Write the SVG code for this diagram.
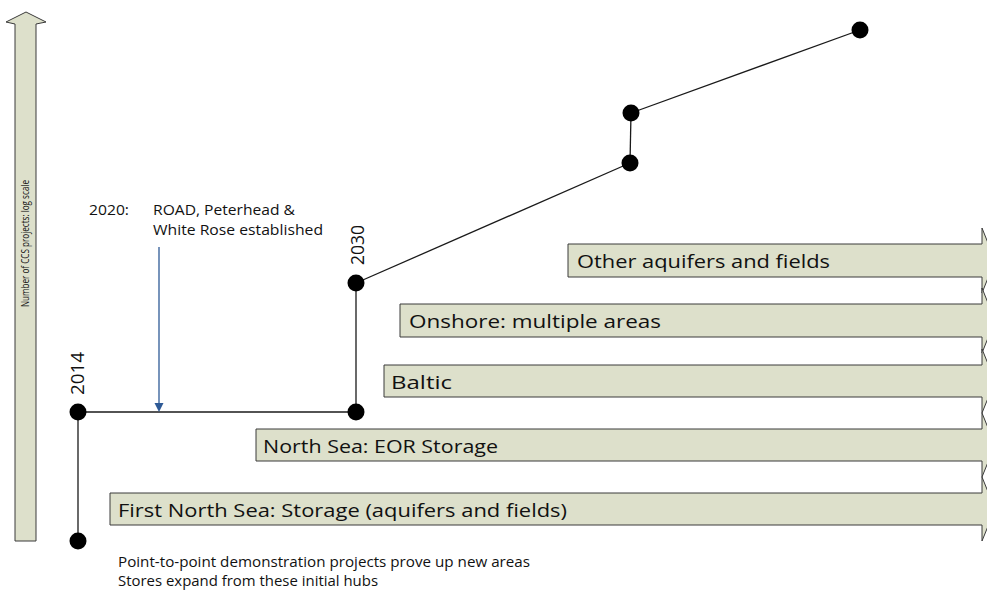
<svg xmlns="http://www.w3.org/2000/svg" width="987" height="590" viewBox="0 0 987 590">
<style>
.bar{fill:#DDE0CB;stroke:#3A3A3A;stroke-width:1}
.t{font-family:'Open Sans','Noto Sans','Liberation Sans',sans-serif;fill:#111}
.bt{font-size:19px}
.st{font-size:14px}
.yr{font-size:18px}
.ln{stroke:#1a1a1a;stroke-width:1.3;fill:none}
.dot{fill:#000}
</style>
<rect width="987" height="590" fill="#fff"/>

<g id="axis">
<polygon class="bar" points="15,541 15,24 6,22 26,12 46,22 36,24 36,541"/>
<text class="t" font-size="10" transform="translate(28.5,243.5) rotate(-90)" text-anchor="middle" textLength="127" lengthAdjust="spacingAndGlyphs">Number of CCS projects: log scale</text>
</g>

<g id="bar-other">
<polygon class="bar" points="568,244 982,244 982,228 995,260.5 982,293 982,277 568,277"/>
<text class="t bt" x="577" y="268" textLength="253" lengthAdjust="spacingAndGlyphs">Other aquifers and fields</text>
</g>
<g id="bar-onshore">
<polygon class="bar" points="400,304 982,304 982,288 995,320.5 982,353 982,337 400,337"/>
<text class="t bt" x="409" y="328" textLength="252" lengthAdjust="spacingAndGlyphs">Onshore: multiple areas</text>
</g>
<g id="bar-baltic">
<polygon class="bar" points="384,365 982,365 982,349 995,381 982,413 982,397 384,397"/>
<text class="t bt" x="391" y="389" textLength="61" lengthAdjust="spacingAndGlyphs">Baltic</text>
</g>
<g id="bar-eor">
<polygon class="bar" points="256,429 982,429 982,413 995,445 982,477 982,461 256,461"/>
<text class="t bt" x="263" y="453" textLength="235" lengthAdjust="spacingAndGlyphs">North Sea: EOR Storage</text>
</g>
<g id="bar-first">
<polygon class="bar" points="110,493 982,493 982,477 995,509 982,541 982,525 110,525"/>
<text class="t bt" x="118" y="516.5" textLength="449" lengthAdjust="spacingAndGlyphs">First North Sea: Storage (aquifers and fields)</text>
</g>

<g id="connectors">
<line class="ln" x1="78" y1="541" x2="78" y2="412"/>
<line class="ln" x1="78" y1="412" x2="356" y2="412"/>
<line class="ln" x1="356" y1="412" x2="356" y2="283"/>
<line class="ln" x1="356" y1="283" x2="630" y2="163"/>
<line class="ln" x1="630" y1="163" x2="631" y2="113"/>
<line class="ln" x1="631" y1="113" x2="860" y2="30"/>
<line x1="159" y1="247" x2="159" y2="404" stroke="#2E5A96" stroke-width="1.3"/>
<polygon points="154.5,403 163.5,403 159,412" fill="#2E5A96"/>
</g>

<g id="m-start"><circle class="dot" cx="78" cy="541" r="8.5"/></g>
<g id="m-2014"><circle class="dot" cx="78" cy="412" r="8.5"/>
<text class="t yr" transform="translate(83.5,395) rotate(-90)" textLength="43" lengthAdjust="spacingAndGlyphs">2014</text></g>
<g id="m-2020"><circle class="dot" cx="356" cy="412" r="8.5"/></g>
<g id="m-2030"><circle class="dot" cx="356" cy="283" r="8.5"/>
<text class="t yr" transform="translate(363.5,265) rotate(-90)" textLength="40" lengthAdjust="spacingAndGlyphs">2030</text></g>
<g id="m-a"><circle class="dot" cx="630" cy="163" r="8.5"/></g>
<g id="m-b"><circle class="dot" cx="631" cy="113" r="8.5"/></g>
<g id="m-c"><circle class="dot" cx="860" cy="30" r="8.5"/></g>

<g id="note-2020">
<text class="t st" x="89" y="215" textLength="40" lengthAdjust="spacingAndGlyphs">2020:</text>
<text class="t st" x="153" y="215" textLength="142" lengthAdjust="spacingAndGlyphs">ROAD, Peterhead &amp;</text>
<text class="t st" x="153" y="235" textLength="170" lengthAdjust="spacingAndGlyphs">White Rose established</text>
</g>

<g id="note-bottom">
<text class="t st" x="118" y="567" textLength="412" lengthAdjust="spacingAndGlyphs">Point-to-point demonstration projects prove up new areas</text>
<text class="t st" x="118" y="586" textLength="260" lengthAdjust="spacingAndGlyphs">Stores expand from these initial hubs</text>
</g>
</svg>
